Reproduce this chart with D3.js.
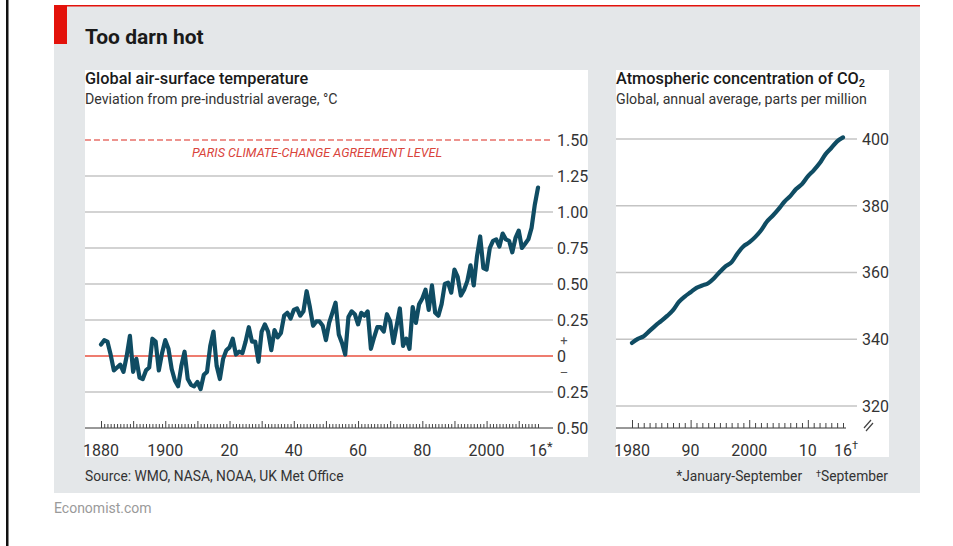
<!DOCTYPE html>
<html>
<head>
<meta charset="utf-8">
<script src="https://cdn.jsdelivr.net/npm/d3@7"></script>
<style>
  body { margin: 0; background: #fff; }
  svg { display: block; font-family: Roboto, "Noto Sans", sans-serif; }
</style>
</head>
<body>
<div id="chart"></div>
<script>
// Global air-surface temperature, deviation from pre-industrial average (°C)
const tempYears = d3.range(1880, 2017);
const tempValues = [
  0.08, 0.11, 0.10, 0.01, -0.10, -0.08, -0.06, -0.11, 0.00, 0.14,
  -0.11, -0.02, -0.15, -0.16, -0.10, -0.08, 0.12, 0.10, -0.10, 0.02,
  0.11, 0.05, -0.09, -0.17, -0.21, -0.07, 0.03, -0.16, -0.20, -0.21,
  -0.18, -0.23, -0.13, -0.11, 0.07, 0.17, -0.07, -0.16, -0.02, 0.04,
  0.06, 0.12, 0.01, 0.03, 0.02, 0.10, 0.20, 0.10, 0.10, -0.04,
  0.17, 0.22, 0.17, 0.04, 0.18, 0.13, 0.16, 0.28, 0.30, 0.26,
  0.32, 0.33, 0.28, 0.31, 0.45, 0.34, 0.21, 0.24, 0.24, 0.21,
  0.11, 0.23, 0.30, 0.37, 0.15, 0.09, 0.01, 0.27, 0.31, 0.29,
  0.22, 0.30, 0.28, 0.31, 0.05, 0.13, 0.20, 0.20, 0.17, 0.29,
  0.24, 0.09, 0.21, 0.33, 0.07, 0.12, 0.05, 0.34, 0.23, 0.36,
  0.40, 0.46, 0.32, 0.49, 0.30, 0.28, 0.36, 0.50, 0.51, 0.44,
  0.60, 0.55, 0.42, 0.46, 0.52, 0.63, 0.49, 0.69, 0.83, 0.61,
  0.60, 0.75, 0.80, 0.81, 0.76, 0.85, 0.81, 0.80, 0.72, 0.82,
  0.87, 0.75, 0.78, 0.81, 0.89, 1.05, 1.17
];
const tempTicks = [1.5, 1.25, 1, 0.75, 0.5, 0.25, 0, -0.25, -0.5];
const tempTickLabels = ["1.50", "1.25", "1.00", "0.75", "0.50", "0.25", "0", "0.25", "0.50"];
const tempYearLabels = [1880, 1900, 1920, 1940, 1960, 1980, 2000, 2016];
const tempYearText = ["1880", "1900", "20", "40", "60", "80", "2000", "16"];

// Atmospheric CO2, global annual average (ppm)
const co2Years = d3.range(1980, 2017);
const co2Values = [
  338.9, 340.1, 340.9, 342.5, 344.1, 345.5, 347.0, 348.7, 351.2, 352.8,
  354.1, 355.4, 356.1, 356.8, 358.3, 360.2, 361.9, 363.1, 365.7, 367.8,
  369.0, 370.6, 372.6, 375.2, 377.0, 379.0, 381.2, 382.9, 385.0, 386.5,
  388.8, 390.6, 392.7, 395.4, 397.3, 399.3, 400.5
];
const co2Ticks = [400, 380, 360, 340, 320];
const co2YearLabels = [1980, 1990, 2000, 2010, 2016];
const co2YearText = ["1980", "90", "2000", "10", "16"];

const W = 953, H = 546;
const lineColor = "#0f4c63";
const red = "#e3120b";

const svg = d3.select("#chart").append("svg")
    .attr("width", W)
    .attr("height", H);

// frame
svg.append("rect").attr("x", 6).attr("y", 0).attr("width", 2.5).attr("height", H).attr("fill", "#111");
svg.append("rect").attr("x", 54).attr("y", 5).attr("width", 866).attr("height", 488).attr("fill", "#e4e7e9");
svg.append("rect").attr("x", 54).attr("y", 5).attr("width", 866).attr("height", 1.5).attr("fill", red);
svg.append("rect").attr("x", 54).attr("y", 5).attr("width", 13).attr("height", 39).attr("fill", red);
svg.append("rect").attr("x", 85).attr("y", 70).attr("width", 503).attr("height", 387).attr("fill", "#fff");
svg.append("rect").attr("x", 616).attr("y", 70).attr("width", 273).attr("height", 387).attr("fill", "#fff");

svg.append("text").attr("x", 85).attr("y", 44)
    .attr("font-size", 21).attr("font-weight", 700).attr("fill", "#1a1a1a")
    .text("Too darn hot");

// ---------- left: temperature ----------
const xT = d3.scaleLinear().domain([1880, 2016]).range([101, 538]);
const yT = d3.scaleLinear().domain([-0.5, 1.5]).range([428, 140]);
const gridEndT = 553;

svg.append("text").attr("x", 85).attr("y", 84)
    .attr("font-size", 16.3).attr("font-weight", 500).attr("fill", "#1a1a1a")
    .text("Global air-surface temperature");
svg.append("text").attr("x", 85).attr("y", 104)
    .attr("font-size", 14.2).attr("fill", "#333")
    .text("Deviation from pre-industrial average, °C");

const gT = svg.append("g");
gT.selectAll("line.grid")
    .data(tempTicks)
    .join("line")
    .attr("class", "grid")
    .attr("x1", 85).attr("x2", gridEndT)
    .attr("y1", d => yT(d)).attr("y2", d => yT(d))
    .attr("stroke", d => d === 0 ? "#e8503f" : d === 1.5 ? "#e8706a" : d === -0.5 ? "#333" : "#c4c4c4")
    .attr("stroke-width", d => d === -0.5 ? 1 : 1.6)
    .attr("stroke-dasharray", d => d === 1.5 ? "6,3" : null);

gT.selectAll("text.ylab")
    .data(tempTicks)
    .join("text")
    .attr("class", "ylab")
    .attr("x", 557).attr("y", d => yT(d))
    .attr("dy", "0.36em")
    .attr("font-size", 16).attr("fill", "#333")
    .text((d, i) => tempTickLabels[i]);

gT.append("text").attr("x", 564).attr("y", 345).attr("text-anchor", "middle")
    .attr("font-size", 13).attr("fill", "#555").text("+");
gT.append("text").attr("x", 564).attr("y", 377).attr("text-anchor", "middle")
    .attr("font-size", 13).attr("fill", "#555").text("–");

gT.append("text").attr("x", 317).attr("y", 157).attr("text-anchor", "middle")
    .attr("font-size", 12.6).attr("font-style", "italic").attr("fill", "#d9443b")
    .text("PARIS CLIMATE-CHANGE AGREEMENT LEVEL");

// year ticks
gT.append("g")
    .attr("transform", `translate(0,${yT(-0.5)})`)
    .call(d3.axisBottom(xT).tickValues(tempYears).tickSize(-4).tickFormat(""))
    .call(g => g.select(".domain").remove())
    .call(g => g.selectAll(".tick line")
        .attr("y2", d => d % 10 === 0 ? -7 : -4)
        .attr("stroke", "#444"));

gT.selectAll("text.xlab")
    .data(tempYearLabels)
    .join("text")
    .attr("class", "xlab")
    .attr("x", d => xT(d)).attr("y", 456)
    .attr("text-anchor", "middle")
    .attr("font-size", 16).attr("fill", "#333")
    .text((d, i) => tempYearText[i]);
gT.append("text").attr("x", xT(2016) + 9).attr("y", 451)
    .attr("font-size", 13).attr("fill", "#333").text("*");

gT.append("path")
    .datum(tempValues)
    .attr("fill", "none")
    .attr("stroke", lineColor)
    .attr("stroke-width", 4.2)
    .attr("stroke-linejoin", "round")
    .attr("stroke-linecap", "round")
    .attr("d", d3.line().x((d, i) => xT(tempYears[i])).y(d => yT(d)));

// ---------- right: CO2 ----------
const xC = d3.scaleLinear().domain([1980, 2016]).range([632, 843]);
const yC = d3.scaleLinear().domain([320, 400]).range([406, 139]);

const t2 = svg.append("text").attr("x", 616).attr("y", 84)
    .attr("font-size", 16.3).attr("font-weight", 500).attr("fill", "#1a1a1a");
t2.append("tspan").text("Atmospheric concentration of CO");
t2.append("tspan").attr("font-size", 11).attr("dy", 3).text("2");
svg.append("text").attr("x", 616).attr("y", 104)
    .attr("font-size", 14.2).attr("fill", "#333")
    .text("Global, annual average, parts per million");

const gC = svg.append("g");
gC.selectAll("line.grid")
    .data(co2Ticks)
    .join("line")
    .attr("class", "grid")
    .attr("x1", 616).attr("x2", 857)
    .attr("y1", d => yC(d)).attr("y2", d => yC(d))
    .attr("stroke", "#c4c4c4").attr("stroke-width", 1.6);
gC.selectAll("text.ylab")
    .data(co2Ticks)
    .join("text")
    .attr("class", "ylab")
    .attr("x", 862).attr("y", d => yC(d))
    .attr("dy", "0.36em")
    .attr("font-size", 16).attr("fill", "#333")
    .text(d => d);

gC.append("line").attr("x1", 616).attr("x2", 846).attr("y1", 428).attr("y2", 428)
    .attr("stroke", "#333").attr("stroke-width", 1);
gC.append("g")
    .attr("transform", "translate(0,428)")
    .call(d3.axisBottom(xC).tickValues(co2Years).tickSize(-4).tickFormat(""))
    .call(g => g.select(".domain").remove())
    .call(g => g.selectAll(".tick line")
        .attr("y2", d => d % 10 === 0 ? -8 : -5)
        .attr("stroke", "#444"));
// axis break mark
gC.append("path")
    .attr("d", "M864,428 L871,420 M866,431 L873,423")
    .attr("stroke", "#444").attr("stroke-width", 1.2).attr("fill", "none");

gC.selectAll("text.xlab")
    .data(co2YearLabels)
    .join("text")
    .attr("class", "xlab")
    .attr("x", d => xC(d)).attr("y", 456)
    .attr("text-anchor", "middle")
    .attr("font-size", 16).attr("fill", "#333")
    .text((d, i) => co2YearText[i]);
gC.append("text").attr("x", xC(2016) + 9).attr("y", 449)
    .attr("font-size", 11).attr("fill", "#333").text("†");

gC.append("path")
    .datum(co2Values)
    .attr("fill", "none")
    .attr("stroke", lineColor)
    .attr("stroke-width", 4.2)
    .attr("stroke-linejoin", "round")
    .attr("stroke-linecap", "round")
    .attr("d", d3.line().x((d, i) => xC(co2Years[i])).y(d => yC(d)).curve(d3.curveMonotoneX));

// ---------- footer ----------
svg.append("text").attr("x", 85).attr("y", 481)
    .attr("font-size", 13.8).attr("fill", "#333")
    .text("Source: WMO, NASA, NOAA, UK Met Office");
const fn = svg.append("text").attr("x", 888).attr("y", 481)
    .attr("text-anchor", "end")
    .attr("font-size", 13.8).attr("fill", "#333");
fn.append("tspan").text("*January-September");
fn.append("tspan").attr("font-size", 9).attr("dx", 14).attr("dy", -4).text("†");
fn.append("tspan").attr("dy", 4).text("September");
svg.append("text").attr("x", 54).attr("y", 513)
    .attr("font-size", 14).attr("fill", "#9a9a9a")
    .text("Economist.com");
</script>
</body>
</html>
